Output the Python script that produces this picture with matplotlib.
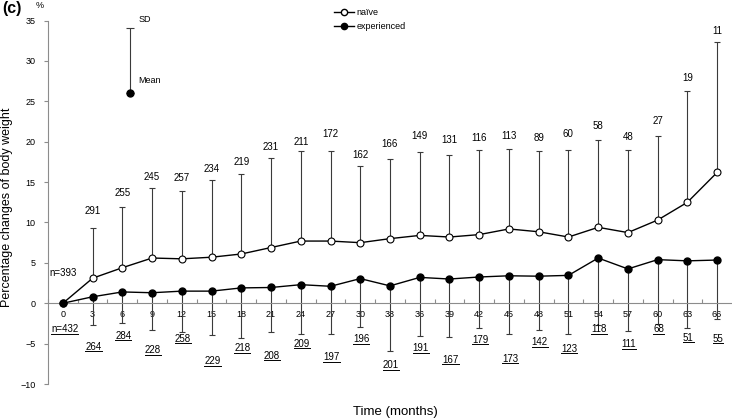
import matplotlib
matplotlib.use("Agg")
import matplotlib.pyplot as plt
from matplotlib.lines import Line2D
from matplotlib.ticker import MultipleLocator

plt.rcParams['font.family'] = ['Liberation Sans', 'DejaVu Sans']

# data
months = list(range(0, 67, 3))
naive_mean = [0, 3.1, 4.4, 5.6, 5.5, 5.7, 6.1, 6.9, 7.7, 7.7, 7.5, 8.0,
              8.4, 8.2, 8.5, 9.2, 8.85, 8.2, 9.4, 8.75, 10.3, 12.5, 16.2]
naive_sd = [0, 6.2, 7.5, 8.7, 8.4, 9.6, 9.9, 11.1, 11.1, 11.2, 9.5, 9.9,
            10.3, 10.2, 10.5, 9.9, 10.0, 10.8, 10.8, 10.2, 10.4, 13.8, 16.1]
naive_n = [393, 291, 255, 245, 257, 234, 219, 231, 211, 172, 162, 166,
           149, 131, 116, 113, 89, 60, 58, 48, 27, 19, 11]

exp_mean = [0, 0.8, 1.4, 1.3, 1.5, 1.5, 1.9, 1.95, 2.3, 2.1, 3.05, 2.15,
            3.2, 3.0, 3.25, 3.4, 3.35, 3.45, 5.6, 4.25, 5.4, 5.25, 5.35]
exp_sd = [0, 3.5, 3.9, 4.6, 5.05, 5.4, 6.2, 5.55, 6.1, 5.9, 5.95, 8.1,
          7.2, 7.15, 6.3, 7.2, 6.65, 7.25, 8.3, 7.65, 8.0, 8.3, 7.25]
exp_n = [432, 264, 284, 228, 258, 229, 218, 208, 209, 197, 196, 201,
         191, 167, 179, 173, 142, 123, 118, 111, 68, 51, 55]

# where the n labels sit (data units), staggered as in the original
naive_label_y = [3.8, 11.4, 13.7, 15.6, 15.45, 16.6, 17.5, 19.4, 20.0, 20.9, 18.3, 19.7,
                 20.65, 20.2, 20.5, 20.7, 20.5, 21.0, 21.9, 20.6, 22.55, 27.85, 33.7]
exp_label_y = [-3.25, -5.4, -4.05, -5.8, -4.4, -7.2, -5.6, -6.5, -5.0, -6.7, -4.45, -7.7,
               -5.6, -7.0, -4.5, -6.85, -4.8, -5.65, -3.2, -5.1, -3.2, -4.3, -4.4]

fig = plt.figure(figsize=(7.32, 4.19), dpi=100)
ax = fig.add_axes([48 / 732, 1 - 384 / 419, 683 / 732, 363.4 / 419])

ecol = '#3a3a3a'
zeros = [0] * len(months)

ax.errorbar(months, naive_mean, yerr=[zeros, naive_sd], fmt='none',
            ecolor=ecol, elinewidth=0.8, capsize=2, capthick=0.8, zorder=2)
ax.errorbar(months, exp_mean, yerr=[exp_sd, zeros], fmt='none',
            ecolor=ecol, elinewidth=0.8, capsize=2, capthick=0.8, zorder=2)
ax.plot(months, naive_mean, color='black', lw=1, marker='o', ms=5,
        mfc='white', mec='black', mew=0.8, zorder=4)
ax.plot(months, exp_mean, color='black', lw=1, marker='o', ms=5,
        mfc='black', mec='black', zorder=4)

for i, (m, n) in enumerate(zip(months, naive_n)):
    if i == 0:
        ax.text(-1.4, naive_label_y[i], f"n={n}", fontsize=7, ha='left', va='center')
    else:
        ax.text(m, naive_label_y[i], str(n), fontsize=7, ha='center', va='center')

under = []
for i, (m, n) in enumerate(zip(months, exp_n)):
    if i == 0:
        t = ax.text(-1.2, exp_label_y[i], f"n={n}", fontsize=7, ha='left', va='center')
    else:
        t = ax.text(m + 0.1, exp_label_y[i], str(n), fontsize=7, ha='center', va='center')
    under.append(t)

# SD / Mean key
ax.errorbar([6.75], [26.0], yerr=[[0], [8.1]], fmt='o', color='black', ms=5,
            ecolor=ecol, elinewidth=0.8, capsize=3, capthick=0.8)
ax.text(7.6, 35.1, "SD", fontsize=6.5, ha='left', va='center')
ax.text(7.6, 27.6, "Mean", fontsize=6.5, ha='left', va='center')

ax.set_xlim(-1.45, 67.4)
ax.set_ylim(-10, 35)
ax.yaxis.set_major_locator(MultipleLocator(5))
ax.set_xticks(months)
ax.set_xticks([m + 1.5 for m in months[:-1]] + [-1.5], minor=True)

for s in ['top', 'right']:
    ax.spines[s].set_visible(False)
ax.spines['left'].set_color('#8c8c8c')
ax.spines['bottom'].set_color('#8c8c8c')
ax.spines['bottom'].set_position(('data', 0))
ax.spines['left'].set_linewidth(0.8)
ax.spines['bottom'].set_linewidth(0.8)

ax.tick_params(axis='y', which='major', length=3, width=0.8, color='#8c8c8c',
               labelsize=6.5, pad=6)
ax.tick_params(axis='x', which='major', length=0, labelsize=6.5, pad=5)
ax.tick_params(axis='x', which='minor', direction='in', length=3, width=0.8,
               color='#8c8c8c')

fig.text(7 / 732, 1 - 207 / 419, "Percentage changes of body weight", rotation=90,
         fontsize=9, ha='center', va='center')
fig.text(395 / 732, 1 - 412 / 419, "Time (months)", fontsize=9.5, ha='center', va='center')
fig.text(2 / 732, 1 - 8 / 419, "(c)", fontsize=11.5, fontweight='bold', ha='left', va='center')
fig.text(40 / 732, 1 - 5 / 419, "%", fontsize=6.5, ha='center', va='center')

handles = [
    Line2D([], [], color='black', lw=1, marker='o', ms=4.5, mfc='white', mec='black'),
    Line2D([], [], color='black', lw=1, marker='o', ms=4.5, mfc='black', mec='black'),
]
fig.legend(handles, ['naïve', 'experienced'], loc='upper left',
           bbox_to_anchor=(334 / 732, 1 - 8 / 419), frameon=False, fontsize=6.5,
           handlelength=2.2, handletextpad=0.3, borderpad=0, borderaxespad=0,
           labelspacing=0.6)

# underline the experienced n labels
fig.canvas.draw()
inv = fig.transFigure.inverted()
for t in under:
    bb = t.get_window_extent()
    (x0, y0), (x1, _) = inv.transform([(bb.x0, bb.y0 + 0.5), (bb.x1, bb.y0)])
    fig.add_artist(Line2D([x0, x1], [y0, y0], color='black', lw=0.7,
                          transform=fig.transFigure))

fig.savefig("out.png", dpi=100)
